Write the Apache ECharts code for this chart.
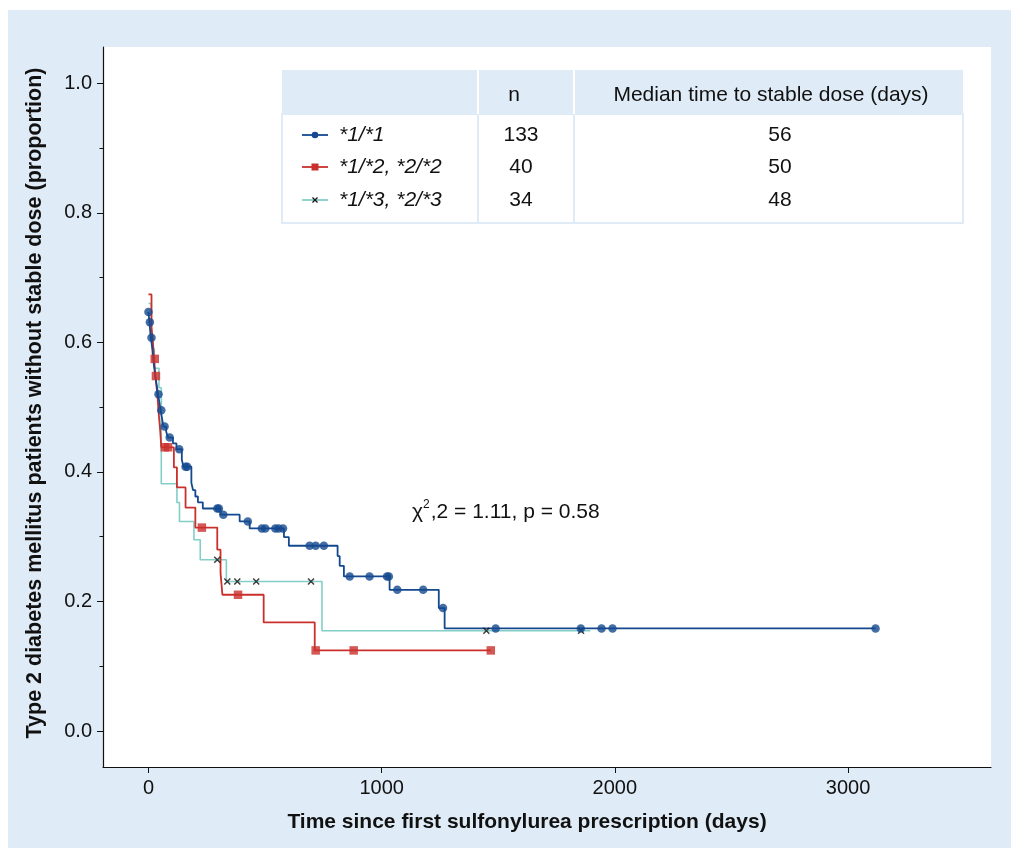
<!DOCTYPE html>
<html><head><meta charset="utf-8">
<script src="https://cdn.jsdelivr.net/npm/echarts@6/dist/echarts.min.js"></script>
<style>
html,body{margin:0;padding:0;background:#fff;}
#bg{position:absolute;left:8px;top:10px;width:1003px;height:838px;background:#dfebf6;}
#chart{position:absolute;left:0;top:0;width:1011px;height:848px;}
</style></head><body>
<div id="bg"></div><div id="chart"></div>
<script>
// ---- data ----
const xTicks = [0, 1000, 2000, 3000];
const yTicks = [0, 0.2, 0.4, 0.6, 0.8, 1.0];
const yMinorTicks = [0.1, 0.3, 0.5, 0.7, 0.9];
const groupNames = ['*1/*1', '*1/*2, *2/*2', '*1/*3, *2/*3'];
const groupN = [133, 40, 34];
const medianDays = [56, 50, 48];
const tableHeaders = ['n', 'Median time to stable dose (days)'];
const statText = ',2 = 1.11, p = 0.58';

// Kaplan-Meier steps [days, proportion]
const blueSteps = [[0,0.647],[4,0.631],[10,0.607],[16,0.592],[20,0.575],[25,0.56],[30,0.545],[36,0.532],[41,0.52],[47,0.507],[52,0.495],[58,0.483],[64,0.47],[76,0.462],[84,0.453],[105,0.444],[120,0.435],[143,0.419],[150,0.408],[184,0.383],[191,0.372],[201,0.362],[212,0.353],[233,0.3435],[309,0.334],[391,0.3235],[434,0.3127],[581,0.2994],[602,0.286],[811,0.27],[820,0.255],[838,0.2386],[1034,0.218],[1245,0.1898],[1270,0.1583],[3118,0.1583]];
const blueCensored = [[0,0.647],[6,0.631],[13,0.607],[43,0.52],[55,0.495],[69,0.47],[91,0.453],[132,0.435],[159,0.408],[166,0.408],[295,0.3435],[302,0.3435],[321,0.334],[426,0.3235],[486,0.3127],[501,0.3127],[544,0.3127],[558,0.3127],[577,0.3127],[691,0.286],[717,0.286],[752,0.286],[863,0.2386],[948,0.2386],[1023,0.2386],[1031,0.2386],[1067,0.218],[1178,0.218],[1263,0.1898],[1489,0.1583],[1854,0.1583],[1943,0.1583],[1990,0.1583],[3118,0.1583]];

const redSteps = [[0,0.674],[13,0.624],[19,0.60],[24,0.5745],[30,0.548],[38,0.52],[44,0.49],[50,0.465],[55,0.438],[109,0.407],[122,0.376],[159,0.345],[201,0.314],[295,0.28],[309,0.244],[317,0.2103],[494,0.1676],[713,0.1244],[1468,0.1244]];
const redCensored = [[27,0.5745],[32,0.548],[70,0.438],[84,0.438],[229,0.314],[384,0.2103],[717,0.1244],[880,0.1244],[1468,0.1244]];

const tealSteps = [[0,0.66],[12,0.62],[16,0.59],[25,0.56],[45,0.53],[55,0.3816],[122,0.3528],[133,0.3235],[195,0.2952],[222,0.2643],[334,0.2309],[744,0.1548],[1895,0.1548]];
const tealCensored = [[295,0.2643],[338,0.2309],[381,0.2309],[462,0.2309],[697,0.2309],[1449,0.1548],[1855,0.1548]];

// ---- styles ----
const FONT = '"Liberation Sans", Arial, Helvetica, sans-serif';
const BG = '#dfebf6';
const colors = ['#14498f', '#c9302c', '#82cfc7'];
const xPath = 'path://M0,0L10,10M10,0L0,10';

const chart = echarts.init(document.getElementById('chart'), null, {renderer: 'canvas'});

// table graphic
const tX = 282, tW = 681, hY = 70, hH = 44, bH = 109;
const colSep = [478, 574];
const rowY = [135, 167, 200];
const g = [];
g.push({type:'rect', shape:{x:tX, y:hY, width:tW, height:hH}, style:{fill:BG}, z:10});
g.push({type:'rect', shape:{x:tX, y:hY+hH, width:tW, height:bH}, style:{fill:'#fff', stroke:BG, lineWidth:2}, z:10});
colSep.forEach(cx => {
  g.push({type:'line', shape:{x1:cx, y1:hY, x2:cx, y2:hY+hH}, style:{stroke:'#fff', lineWidth:2}, z:11});
  g.push({type:'line', shape:{x1:cx, y1:hY+hH, x2:cx, y2:hY+hH+bH}, style:{stroke:BG, lineWidth:2}, z:11});
});
const tStyle = {fontSize:21, fontFamily:FONT, fill:'#111', align:'center', verticalAlign:'middle'};
g.push({type:'text', x:514, y:95, style:Object.assign({}, tStyle, {text:tableHeaders[0]}), z:12});
g.push({type:'text', x:771, y:95, style:Object.assign({}, tStyle, {text:tableHeaders[1]}), z:12});
groupNames.forEach((nm, i) => {
  const y = rowY[i];
  g.push({type:'line', shape:{x1:302, y1:y, x2:328, y2:y}, style:{stroke:colors[i], lineWidth:1.8}, z:12});
  if (i === 0) g.push({type:'circle', shape:{cx:315, cy:y, r:3.3}, style:{fill:colors[0]}, z:13});
  if (i === 1) g.push({type:'rect', shape:{x:311.5, y:y-3.5, width:7, height:7}, style:{fill:colors[1]}, z:13});
  if (i === 2) {
    g.push({type:'line', shape:{x1:312.5, y1:y-2.5, x2:317.5, y2:y+2.5}, style:{stroke:'#111', lineWidth:1.3}, z:13});
    g.push({type:'line', shape:{x1:317.5, y1:y-2.5, x2:312.5, y2:y+2.5}, style:{stroke:'#111', lineWidth:1.3}, z:13});
  }
  g.push({type:'text', x:339, y:y, style:Object.assign({}, tStyle, {text:nm, align:'left', fontStyle:'italic'}), z:12});
  g.push({type:'text', x:521, y:y, style:Object.assign({}, tStyle, {text:String(groupN[i])}), z:12});
  g.push({type:'text', x:780, y:y, style:Object.assign({}, tStyle, {text:String(medianDays[i])}), z:12});
});
// test statistic annotation
g.push({type:'text', x:412, y:512, z:12, style:{
  text:'{a|χ}{s|2}{a|' + statText + '}', align:'left', verticalAlign:'middle',
  rich:{a:{fontSize:21, fontFamily:FONT, fill:'#111'}, s:{fontSize:12, fontFamily:FONT, fill:'#111', padding:[0,1,14,0]}}
}});

const option = {
  animation: false,
  backgroundColor: 'transparent',
  grid: {left:103, right:20, top:47, bottom:81, show:true, backgroundColor:'#fff', borderWidth:0},
  xAxis: {
    type:'value', min:-195, max:3613,
    axisLine:{show:true, onZero:false, lineStyle:{color:'#111', width:1.2}},
    axisTick:{show:true, customValues:xTicks, length:6, lineStyle:{color:'#111'}},
    axisLabel:{customValues:xTicks, fontSize:20, color:'#111', margin:11, fontFamily:FONT, formatter: v => String(Math.round(v))},
    splitLine:{show:false},
    name:'Time since first sulfonylurea prescription (days)', nameLocation:'middle', nameGap:45,
    nameTextStyle:{fontWeight:'bold', fontSize:21, color:'#111', fontFamily:FONT, padding:[0,40,0,0]}
  },
  yAxis: [{
    type:'value', min:-0.0556, max:1.056, position:'left',
    axisLine:{show:true, onZero:false, lineStyle:{color:'#111', width:1.2}},
    axisTick:{show:true, customValues:yTicks, length:6, lineStyle:{color:'#111'}},
    axisLabel:{customValues:yTicks, fontSize:20, color:'#111', margin:11, fontFamily:FONT, formatter: v => Number(v).toFixed(1)},
    splitLine:{show:false},
    name:'Type 2 diabetes mellitus patients without stable dose (proportion)', nameLocation:'middle', nameGap:57, nameRotate:90,
    nameTextStyle:{fontWeight:'bold', fontSize:21.5, color:'#111', fontFamily:FONT, padding:[0,0,0,8]}
  }, {
    type:'value', min:-0.0556, max:1.056, position:'left',
    axisLine:{show:false, onZero:false},
    axisTick:{show:true, customValues:yMinorTicks, length:3.5, lineStyle:{color:'#111'}},
    axisLabel:{show:false}, splitLine:{show:false}
  }],
  graphic: g,
  series: [
    {name:groupNames[2], type:'line', step:'end', data:tealSteps, symbol:'none', lineStyle:{color:colors[2], width:1.6}, z:2},
    {name:groupNames[1], type:'line', step:'end', data:redSteps, symbol:'none', lineStyle:{color:colors[1], width:1.8}, z:3},
    {name:groupNames[0], type:'line', step:'end', data:blueSteps, symbol:'none', lineStyle:{color:colors[0], width:1.8}, z:4},
    {type:'scatter', data:tealCensored, symbol:xPath, symbolSize:6, itemStyle:{color:'rgba(0,0,0,0)', borderColor:'#111', borderWidth:1.5}, z:5},
    {type:'scatter', data:redCensored, symbol:'rect', symbolSize:8.5, itemStyle:{color:colors[1]}, z:6},
    {type:'scatter', data:blueCensored, symbol:'circle', symbolSize:8.5, itemStyle:{color:colors[0]}, z:7}
  ]
};
chart.setOption(option);
</script>
</body></html>
